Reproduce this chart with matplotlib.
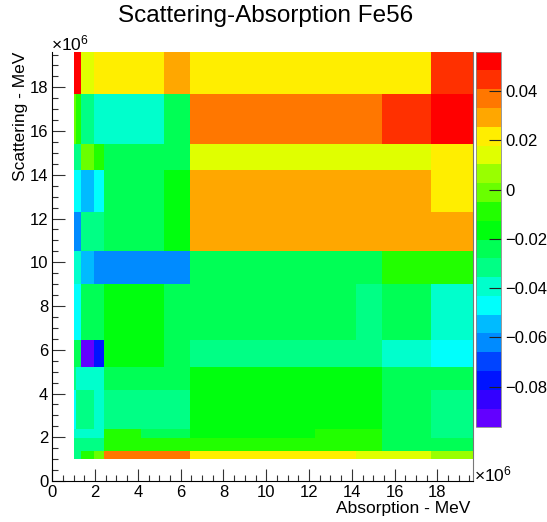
import colorsys
import numpy as np
import matplotlib
matplotlib.use("Agg")
import matplotlib.pyplot as plt
from matplotlib.colors import ListedColormap, BoundaryNorm
from matplotlib.ticker import MultipleLocator, FuncFormatter

plt.rcParams['font.family'] = ['Liberation Sans', 'DejaVu Sans']
plt.rcParams['mathtext.fontset'] = 'custom'
plt.rcParams['mathtext.rm'] = 'Liberation Sans'
plt.rcParams['mathtext.it'] = 'Liberation Sans'

# group edges, same on both axes (x1e6)
edges = np.array([1.0, 1.1, 1.35, 1.95, 2.4, 4.15, 5.2, 6.45, 9.0,
                  10.5, 12.3, 14.2, 15.4, 17.7, 19.65]) * 1e6

# cell values, bottom row first, columns left to right
row01 = [-0.032, -0.032, -0.009, -0.001, 0.037, 0.037, 0.037, 0.022, 0.022, 0.022, 0.022, 0.014, 0.014, 0.006]
row02 = [-0.032, -0.032, -0.009, -0.001, 0.037, 0.037, 0.037, 0.022, 0.022, 0.022, 0.022, 0.014, 0.014, 0.006]
row03 = [-0.032, -0.032, -0.032, -0.032, -0.009, -0.009, -0.009, -0.009, -0.009, -0.009, -0.009, -0.009, -0.024, -0.024]
row04 = [-0.039, -0.039, -0.039, -0.039, -0.009, -0.024, -0.024, -0.016, -0.016, -0.016, -0.009, -0.009, -0.024, -0.032]
row05 = [-0.047, -0.032, -0.032, -0.039, -0.032, -0.032, -0.032, -0.016, -0.016, -0.016, -0.016, -0.016, -0.024, -0.032]
row06 = [-0.032, -0.039, -0.039, -0.039, -0.024, -0.024, -0.024, -0.016, -0.016, -0.016, -0.016, -0.016, -0.024, -0.024]
row07 = [-0.024, -0.024, -0.093, -0.077, -0.016, -0.016, -0.024, -0.032, -0.032, -0.032, -0.032, -0.032, -0.039, -0.047]
row08 = [-0.047, -0.047, -0.024, -0.024, -0.016, -0.016, -0.024, -0.024, -0.024, -0.024, -0.024, -0.032, -0.024, -0.039]
row09 = [-0.039, -0.039, -0.055, -0.062, -0.062, -0.062, -0.062, -0.024, -0.024, -0.024, -0.024, -0.024, -0.009, -0.009]
row10 = [-0.062, -0.062, -0.032, -0.032, -0.024, -0.024, -0.016, 0.029, 0.029, 0.029, 0.029, 0.029, 0.029, 0.029]
row11 = [-0.047, -0.047, -0.055, -0.047, -0.024, -0.024, -0.016, 0.029, 0.029, 0.029, 0.029, 0.029, 0.029, 0.022]
row12 = [-0.032, -0.032, -0.001, -0.009, -0.024, -0.024, -0.024, 0.014, 0.014, 0.014, 0.014, 0.014, 0.014, 0.022]
row13 = [-0.001, -0.009, -0.032, -0.039, -0.039, -0.039, -0.024, 0.037, 0.037, 0.037, 0.037, 0.037, 0.045, 0.052]
row14 = [0.052, 0.052, 0.014, 0.022, 0.022, 0.022, 0.029, 0.022, 0.022, 0.022, 0.022, 0.022, 0.022, 0.045]

z = np.array([row01, row02, row03, row04, row05, row06, row07, row08, row09,
              row10, row11, row12, row13, row14])

zmin, zmax = -0.0965, 0.056
cbar_ticks = [-0.08, -0.06, -0.04, -0.02, 0.0, 0.02, 0.04]

# old ROOT "pretty" palette, 50 colours violet->red, 20 contours
pal = []
for i in range(50):
    hue = 280 - (i + 1) * 5.6 if i < 49 else 0
    pal.append(colorsys.hls_to_rgb(hue / 360.0, 0.5, 1.0))
ncont = 20
cols = [pal[int((k + 0.99) * 50 / ncont)] for k in range(ncont)]
cmap = ListedColormap(cols)
levels = np.linspace(zmin, zmax, ncont + 1)
norm = BoundaryNorm(levels, ncont)

W, H = 547, 522
fig = plt.figure(figsize=(W / 100, H / 100), dpi=100)
ax = fig.add_axes([52.3 / W, 1 - 481 / H, (472.7 - 52.3) / W, (481 - 51.7) / H])
cax = fig.add_axes([476 / W, 1 - 427.3 / H, 25 / W, (427.3 - 51.7) / H])

mesh = ax.pcolormesh(edges, edges, z, cmap=cmap, norm=norm)
ax.set_xlim(0, 19.65e6)
ax.set_ylim(0, 19.63e6)

fmt = FuncFormatter(lambda v, p: f"{v / 1e6:g}")
for a in (ax.xaxis, ax.yaxis):
    a.set_major_locator(MultipleLocator(2e6))
    a.set_minor_locator(MultipleLocator(0.5e6))
    a.set_major_formatter(fmt)
ax.tick_params(which='both', direction='in', top=False, right=False,
               labelsize=12, width=0.8, color='#333333')
ax.tick_params(which='major', length=9)
ax.tick_params(which='minor', length=4.5)
ax.tick_params(axis='x', pad=3)
ax.tick_params(axis='y', pad=3)
ax.spines['top'].set_visible(False)
ax.spines['right'].set_color('#777777')
for s in ('left', 'bottom', 'right'):
    ax.spines[s].set_linewidth(0.8)

cb = fig.colorbar(mesh, cax=cax, ticks=cbar_ticks)
cb.outline.set_edgecolor('#888888')
cb.outline.set_linewidth(0.6)
cb.ax.yaxis.set_major_formatter(FuncFormatter(lambda v, p: "0" if abs(v) < 1e-9 else f"{v:.2f}".replace('-', '\u2212')))
cb.ax.tick_params(direction='in', length=9, width=0.8, labelsize=12, pad=3, color='#222222')
cb.ax.minorticks_off()

fig.text(266 / W, 1 - 16 / H, "Scattering-Absorption Fe56", ha='center', va='center', fontsize=17.5)
fig.text(470 / W, 1 - 509 / H, "Absorption - MeV", ha='right', va='center', fontsize=12.5)
fig.text(21 / W, 1 - 52 / H, "Scattering - MeV", ha='center', va='top', rotation=90, fontsize=12.5)
fig.text(51 / W, 1 - 50 / H, r"$\times$10$^{6}$", ha='left', va='baseline', fontsize=12.5)
fig.text(474 / W, 1 - 481 / H, r"$\times$10$^{6}$", ha='left', va='baseline', fontsize=12.5)

fig.savefig("out.png", dpi=100)
